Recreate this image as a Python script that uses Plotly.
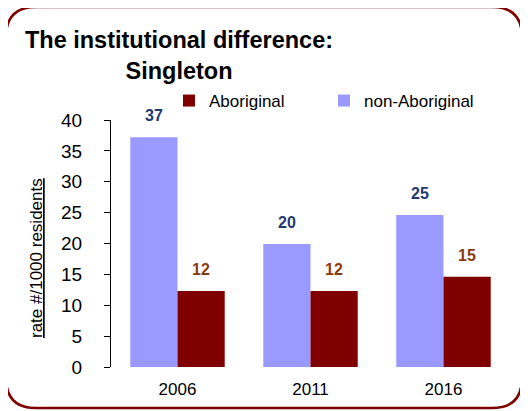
import plotly.graph_objects as go

years = ["2006", "2011", "2016"]
non_aboriginal = [37.2, 19.9, 24.6]
aboriginal = [12.3, 12.3, 14.6]

# the page body adds an 8px margin, so work in screen pixels and shift
OFF = 8
W, H = 528 - OFF, 411 - OFF
PL, PR, PT, PB = 111, 510, 120, 367          # plot area on screen
L, R, T, B = PL - OFF, W - (PR - OFF), PT - OFF, H - (PB - OFF)
pw, ph = W - L - R, H - T - B


def px_x(p):
    return (p - OFF - L) / pw


def px_y(p):
    return (H - B - (p - OFF)) / ph


fig = go.Figure()
fig.add_trace(go.Bar(x=years, y=non_aboriginal, name="non-Aboriginal", legend="legend2",
                     marker=dict(color="#9999FF", line=dict(width=0))))
fig.add_trace(go.Bar(x=years, y=aboriginal, name="Aboriginal", legend="legend",
                     marker=dict(color="#800000", line=dict(width=0))))

# value labels above the bars
bw = (1 - 0.29) / 2
for i in range(len(years)):
    for vals, off, col in [(non_aboriginal, -bw / 2, "#1F3A6E"), (aboriginal, bw / 2, "#8B3A10")]:
        fig.add_annotation(x=i + off, y=vals[i], text="<b>%d</b>" % round(vals[i]),
                           showarrow=False, yanchor="bottom", yshift=11,
                           font=dict(size=16, color=col))

# y axis title, underlined
fig.add_annotation(x=px_x(36), y=px_y(258), xref="paper", yref="paper",
                   xanchor="center", yanchor="middle",
                   text="<u>rate #/1000 residents</u>", textangle=-90, showarrow=False,
                   font=dict(size=17, color="black"))

# rounded border
x0, x1 = px_x(6), px_x(522)
y0, y1 = px_y(7), px_y(408)
rx, ry = 30 / pw, 30 / ph
path = (f"M {x0 + rx},{y0} L {x1 - rx},{y0} Q {x1},{y0} {x1},{y0 - ry} "
        f"L {x1},{y1 + ry} Q {x1},{y1} {x1 - rx},{y1} "
        f"L {x0 + rx},{y1} Q {x0},{y1} {x0},{y1 + ry} "
        f"L {x0},{y0 - ry} Q {x0},{y0} {x0 + rx},{y0} Z")
fig.add_shape(type="path", path=path, xref="paper", yref="paper",
              line=dict(color="#800000", width=2.5))

leg_font = dict(size=17)
fig.update_layout(
    width=W, height=H,
    margin=dict(l=L, r=R, t=T, b=B),
    paper_bgcolor="white", plot_bgcolor="white",
    font=dict(family="Liberation Sans, Arial, sans-serif", color="black"),
    title=dict(text="<b>The institutional difference:<br>Singleton</b>",
               x=(179 - OFF) / W, xanchor="center", xref="container",
               y=1 - 40 / H, yanchor="top", font=dict(size=23.5, color="black")),
    barmode="group", bargap=0.29, bargroupgap=0,
    showlegend=True,
    legend=dict(x=px_x(169), y=px_y(101), xanchor="left", yanchor="middle",
                font=leg_font, borderwidth=0, bgcolor="rgba(0,0,0,0)"),
    legend2=dict(x=px_x(324), y=px_y(101), xanchor="left", yanchor="middle",
                 font=leg_font, borderwidth=0, bgcolor="rgba(0,0,0,0)"),
)
fig.update_yaxes(range=[0, 40], dtick=5, showgrid=False, zeroline=False,
                 showline=True, linecolor="black", linewidth=1,
                 ticks="outside", ticklen=6, tickcolor="black",
                 ticklabelstandoff=18, tickfont=dict(size=19))
fig.update_xaxes(showline=False, showgrid=False, ticks="outside", ticklen=7,
                 tickcolor="rgba(0,0,0,0)", tickfont=dict(size=17))

fig.write_html("out.html")
